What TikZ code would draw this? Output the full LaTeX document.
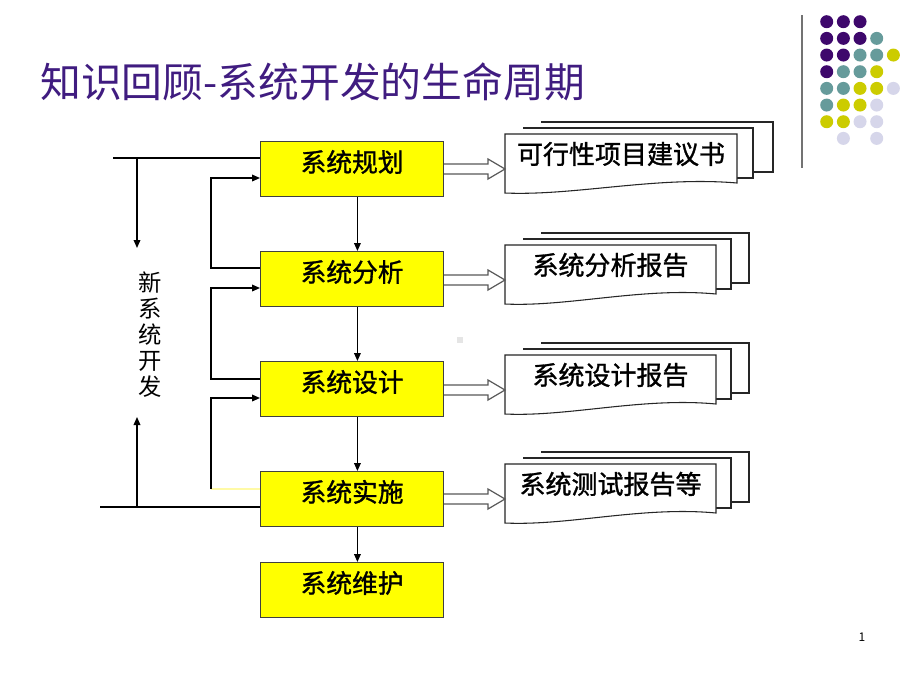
\documentclass[tikz,border=0pt]{standalone}
\usepackage{fontspec}
\setmainfont{Noto Sans CJK SC}
\newfontfamily\heifont{Noto Sans CJK SC}[FakeBold=1.2]
\usetikzlibrary{arrows.meta,calc}
\definecolor{titlepurple}{RGB}{64,28,128}
\definecolor{dotP}{RGB}{62,8,108}
\definecolor{dotT}{RGB}{102,155,155}
\definecolor{dotY}{RGB}{204,204,0}
\definecolor{dotL}{RGB}{214,214,234}
\definecolor{boxyellow}{RGB}{255,255,0}
\tikzset{
  stagebox/.style={draw=black!75, line width=0.9pt, fill=boxyellow, minimum width=137.25pt, minimum height=41.25pt, anchor=north west, inner sep=0pt, font=\heifont\fontsize{19.3pt}{21pt}\selectfont, text height=16pt, text depth=12pt},
  flow/.style={line width=1pt, -{Triangle[length=6pt,width=5pt]}},
  plain/.style={line width=1pt},
  page/.style={draw=black!85, line width=0.8pt, fill=white},
  hollow/.style={draw=black!65, line width=0.9pt, fill=white},
  doctext/.style={font=\heifont\fontsize{19.5pt}{21pt}\selectfont, inner sep=0pt},
  dot/.style={radius=6.5},
}
\begin{document}
\begin{tikzpicture}[x=0.75pt,y=-0.75pt]
\useasboundingbox (0,0) rectangle (920,690);
\fill[white] (0,0) rectangle (920,690);

% title
\node[anchor=west, text=titlepurple, font=\fontsize{30.6pt}{33pt}\selectfont, inner sep=0pt] (title) at (40,82) {知识回顾-系统开发的生命周期};

% decoration
\draw[black!55, line width=1.2pt] (802,15) -- (802,168);
\foreach \i/\r/\c in {0/0/P,1/0/P,2/0/P,
  0/1/P,1/1/P,2/1/P,3/1/T,
  0/2/P,1/2/P,2/2/T,3/2/T,4/2/Y,
  0/3/P,1/3/T,2/3/T,3/3/Y,
  0/4/T,1/4/T,2/4/Y,3/4/Y,4/4/L,
  0/5/T,1/5/Y,2/5/Y,3/5/L,
  0/6/Y,1/6/Y,2/6/L,3/6/L,
  1/7/L,3/7/L}{
  \fill[dot\c] ({826.7+16.67*\i},{21.7+16.67*\r}) circle[dot];
}

% stage boxes
\node[stagebox] (b1) at (260,141) {系统规划};
\node[stagebox] (b2) at (260,251) {系统分析};
\node[stagebox] (b3) at (260,361) {系统设计};
\node[stagebox] (b4) at (260,471) {系统实施};
\node[stagebox] (b5) at (260,562) {系统维护};

% down arrows
\draw[flow] ([xshift=4pt]b1.south) -- ([xshift=4pt]b2.north);
\draw[flow] ([xshift=4pt]b2.south) -- ([xshift=4pt]b3.north);
\draw[flow] ([xshift=4pt]b3.south) -- ([xshift=4pt]b4.north);
\draw[flow] ([xshift=4pt]b4.south) -- ([xshift=4pt]b5.north);

% feedback loops
\coordinate (f2) at (211,268);
\coordinate (t1) at (211,178);
\draw[flow] (b2.west |- f2) -- (f2) -- (t1) -- (b1.west |- t1);
\coordinate (f3) at (211,379);
\coordinate (t2) at (211,288);
\draw[flow] (b3.west |- f3) -- (f3) -- (t2) -- (b2.west |- t2);
\coordinate (f4) at (211,489);
\coordinate (t3) at (211,398);
\draw[plain, yellow!35!white] (b4.west |- f4) -- (f4);
\draw[flow] (f4) -- (t3) -- (b3.west |- t3);

% left lines
\coordinate (lt) at (113,158);
\coordinate (lta) at (137,158);
\coordinate (ltb) at (137,248);
\draw[plain] (lt) -- (b1.west |- lt);
\draw[flow] (lta) -- (ltb);
\coordinate (lb) at (100,507);
\coordinate (lba) at (137,507);
\coordinate (lbb) at (137,417);
\draw[plain] (lb) -- (b4.west |- lb);
\draw[flow] (lba) -- (lbb);

% vertical label
\node[font=\fontsize{17.5pt}{19.5pt}\selectfont, align=center, inner sep=0pt] (newdev) at (150,335) {新\\系\\统\\开\\发};

% small square
\fill[black!10] (457,337) rectangle (463,343);

% document stacks: #1 box, #2 top of front, #3 front right, #4 second right, #5 third right, #6 text, #7 name
\newcommand{\docstack}[7]{%
  \path[page] (541,#2-12) -- (#5,#2-12) -- (#5,#2+38) -- (#4,#2+38);
  \path[page] (523,#2-6) -- (#4,#2-6) -- (#4,#2+44) -- (#3,#2+44);
  \draw[page] (505,#2) -- (#3,#2) -- (#3,#2+49)
     .. controls ({#3-0.35*(#3-505)},#2+42) and ({505+0.3*(#3-505)},#2+62) .. (505,#2+59) -- cycle;
  \node[doctext] (#7) at ({(505+#3)/2},#2+20) {#6};
  \draw[hollow] (#1.east |- 0,{#2+30}) -- (488,#2+30) -- (488,#2+25) -- (505,#2+35) -- (488,#2+45) -- (488,#2+40) -- (#1.east |- 0,{#2+40}) ;
}
\docstack{b1}{134}{737}{753}{773}{可行性项目建议书}{d1}
\docstack{b2}{245}{716}{731}{749}{系统分析报告}{d2}
\docstack{b3}{355}{716}{731}{749}{系统设计报告}{d3}
\docstack{b4}{464}{716}{731}{749}{系统测试报告等}{d4}

% page number
\node[font=\fontsize{9pt}{10pt}\selectfont, inner sep=0pt] (pnum) at (862,637) {1};
\end{tikzpicture}
\end{document}
